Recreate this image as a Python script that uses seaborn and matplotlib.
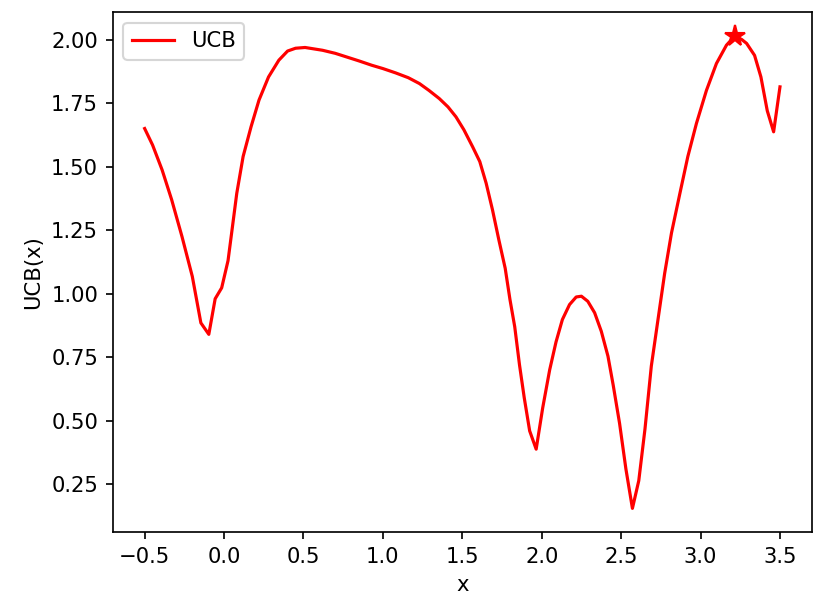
import matplotlib
matplotlib.use("Agg")
import matplotlib.pyplot as plt
import seaborn as sns
import pandas as pd

# UCB curve
x_vals = [-0.50, -0.45, -0.39, -0.33, -0.265, -0.20, -0.146, -0.096, -0.056, -0.015,
          0.025, 0.05, 0.08, 0.12, 0.17, 0.22, 0.28, 0.345, 0.40, 0.45,
          0.51, 0.62, 0.70, 0.77, 0.85, 0.93, 1.00, 1.08, 1.16, 1.23,
          1.29, 1.355, 1.41, 1.46, 1.51, 1.565,
          1.61, 1.65, 1.69, 1.73, 1.77, 1.80, 1.83, 1.86, 1.89, 1.924,
          1.965, 2.006, 2.05, 2.09, 2.13, 2.175, 2.217, 2.25, 2.29, 2.333,
          2.375, 2.417, 2.45, 2.49, 2.53, 2.571, 2.611, 2.65, 2.69, 2.732,
          2.774, 2.817, 2.87, 2.92, 2.974, 3.037, 3.10, 3.163, 3.217, 3.26,
          3.29, 3.34, 3.38, 3.42, 3.46, 3.50]
ucb_vals = [1.65, 1.585, 1.487, 1.37, 1.225, 1.068, 0.885, 0.84, 0.98, 1.023,
            1.13, 1.25, 1.395, 1.54, 1.657, 1.762, 1.853, 1.919, 1.955, 1.966,
            1.969, 1.958, 1.946, 1.932, 1.916, 1.899, 1.886, 1.869, 1.85, 1.827,
            1.80, 1.768, 1.735, 1.696, 1.645, 1.578,
            1.52, 1.435, 1.33, 1.212, 1.10, 0.977, 0.87, 0.72, 0.59, 0.46,
            0.388, 0.55, 0.70, 0.81, 0.898, 0.957, 0.987, 0.99, 0.97, 0.925,
            0.852, 0.754, 0.64, 0.49, 0.31, 0.155, 0.264, 0.467, 0.715, 0.898,
            1.08, 1.239, 1.395, 1.54, 1.67, 1.80, 1.906, 1.978, 2.015, 2.00,
            1.985, 1.938, 1.853, 1.72, 1.637, 1.814]

df = pd.DataFrame({"x": x_vals, "UCB": ucb_vals})
best = df.loc[df["UCB"].idxmax()]

fig, ax = plt.subplots(figsize=(830 / 152, 608 / 152), dpi=152)
fig.subplots_adjust(left=0.136, right=0.978, bottom=0.125, top=0.98)

sns.lineplot(data=df, x="x", y="UCB", color="red", label="UCB", ax=ax, sort=False)
ax.plot(best["x"], best["UCB"], "r*", markersize=10)

ax.set_xlabel("x")
ax.set_ylabel("UCB(x)")
ax.legend(loc="upper left")

plt.savefig("out.png")
